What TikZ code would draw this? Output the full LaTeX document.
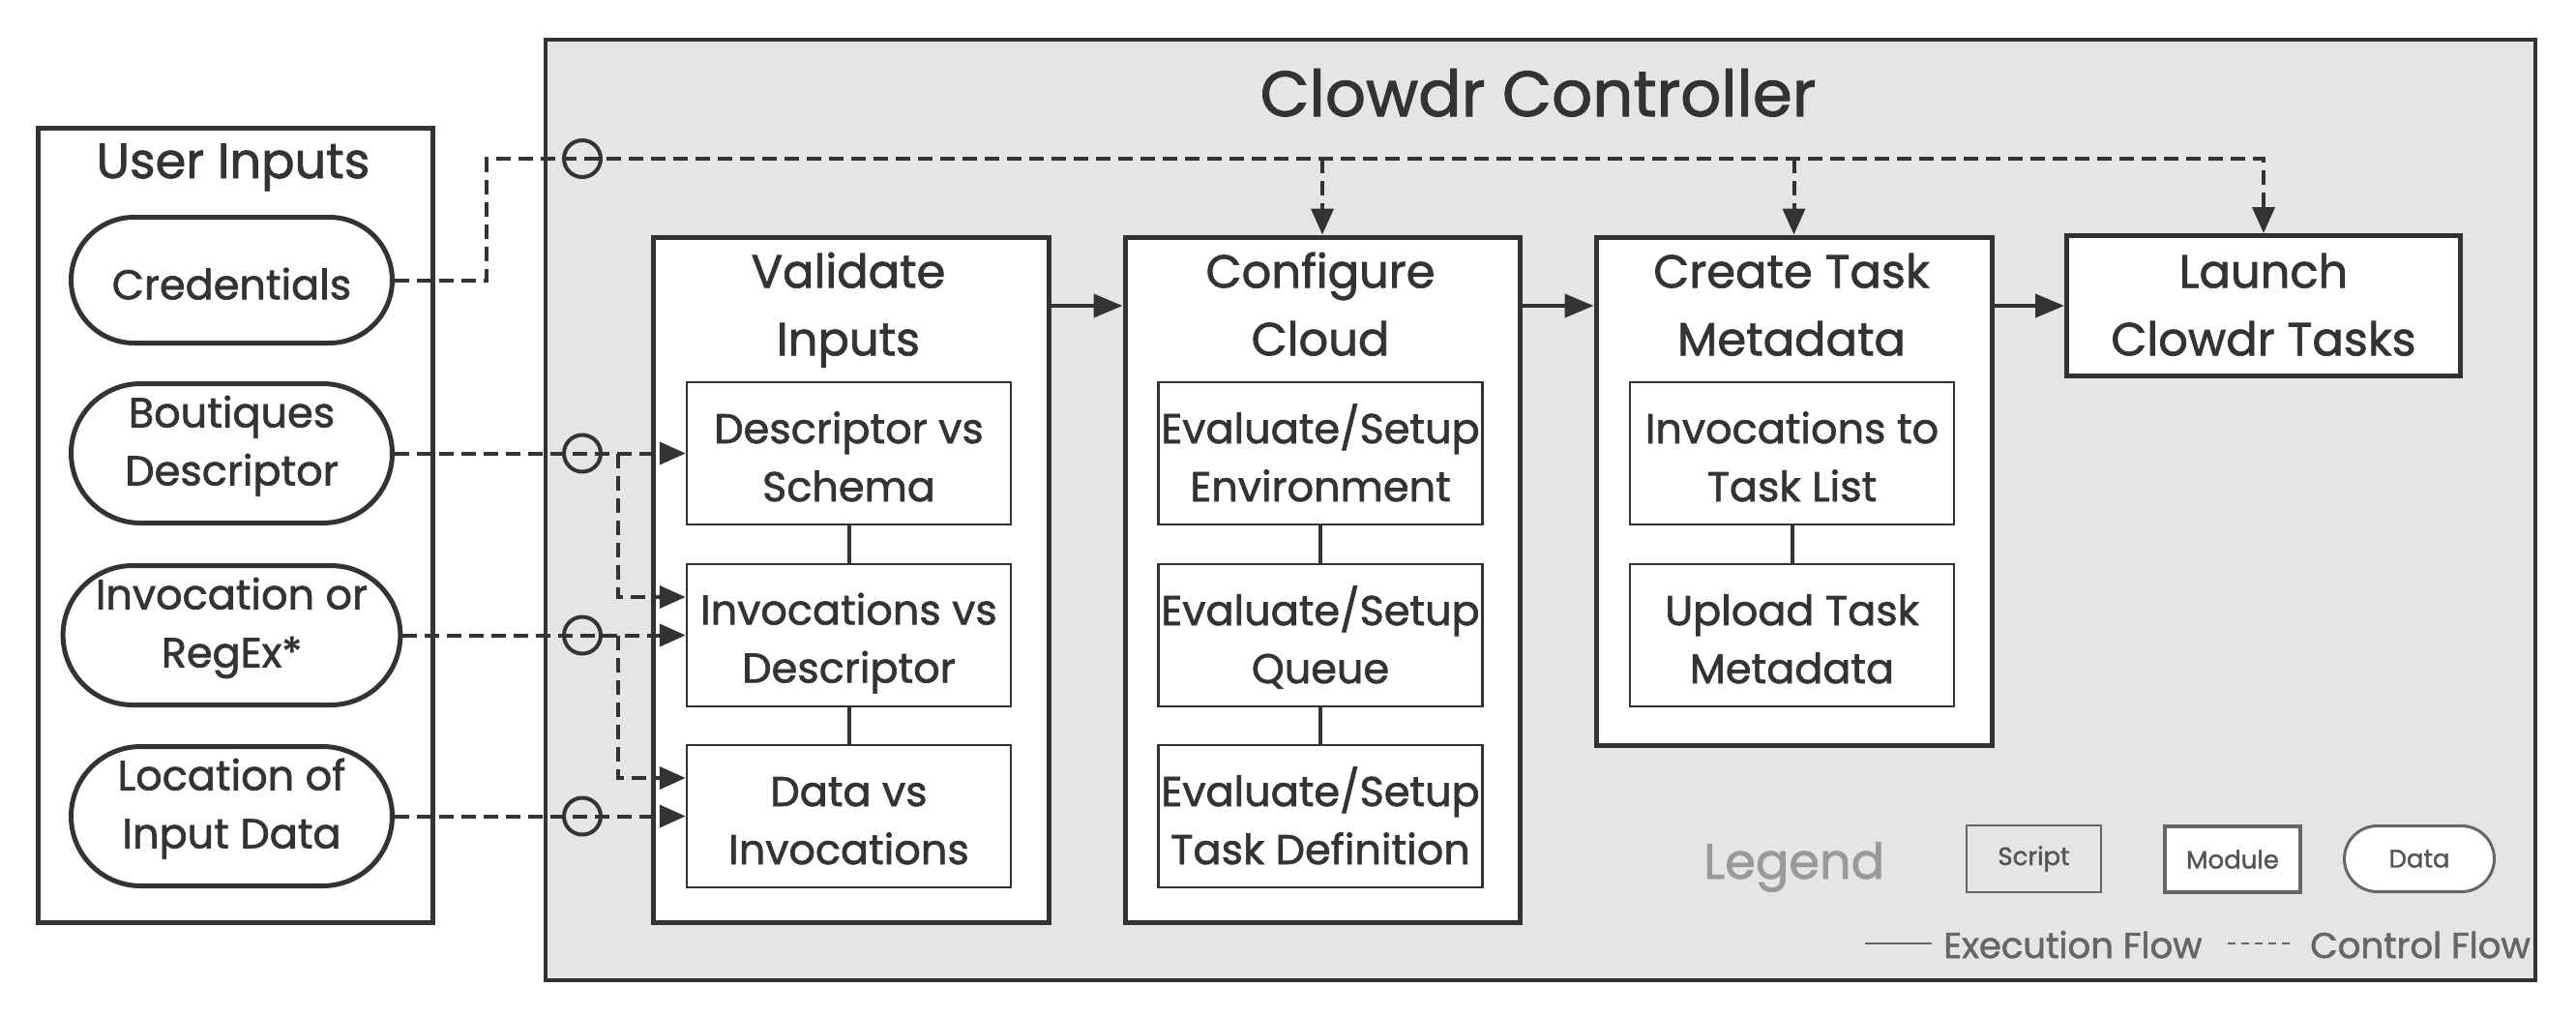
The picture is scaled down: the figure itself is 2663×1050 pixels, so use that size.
\documentclass[tikz,border=0pt]{standalone}
\usepackage{fontspec}
\setmainfont{Poppins}[FakeBold=1.5]
\usetikzlibrary{arrows.meta,shapes.misc}
\definecolor{ink}{HTML}{333333}
\definecolor{panel}{HTML}{E5E5E5}
\definecolor{legd}{HTML}{666666}
\definecolor{legk}{HTML}{555555}
\definecolor{legt}{HTML}{999999}
\newcommand\fsTitle{\fontsize{66}{80}\selectfont}
\newcommand\fsHead{\fontsize{48}{70}\selectfont}
\newcommand\fsUser{\fontsize{51}{70}\selectfont}
\newcommand\fsBody{\fontsize{43}{60}\selectfont}
\newcommand\fsLegend{\fontsize{51}{60}\selectfont}
\newcommand\fsKey{\fontsize{26}{30}\selectfont}
\newcommand\fsFlow{\fontsize{37}{40}\selectfont}
\newcommand\myTopStrut[1]{\rule{0pt}{#1}}
\newcommand\myBotStrut[1]{\rule[-#1]{0pt}{#1}}
\newcommand\HeadLines[2]{\myTopStrut{48pt}#1\\#2\myBotStrut{14.4pt}}
\newcommand\ScriptLines[2]{\myTopStrut{49pt}#1\\#2\myBotStrut{10pt}}
\newcommand\DataLines[2]{\myTopStrut{34pt}#1\\#2\myBotStrut{28pt}}
\tikzset{
  panelbox/.style={draw=ink, line width=4pt, fill=panel, inner sep=0pt, anchor=north west},
  outerbox/.style={draw=ink, line width=5pt, fill=white, inner sep=0pt, anchor=north west},
  modbox/.style={draw=ink, line width=5pt, fill=white, inner sep=0pt, anchor=north west},
  headtext/.style={text=ink, font=\fsHead, align=center, inner sep=0pt},
  scriptbox/.style={draw=ink, line width=2.5pt, fill=white, text=ink, font=\fsBody, align=center,
     minimum width=335pt, minimum height=147pt, inner sep=0pt},
  databox/.style={rounded rectangle, draw=ink, line width=5pt, fill=white, text=ink, font=\fsBody,
     align=center, minimum width=332pt, inner sep=0pt},
  junction/.style={circle, draw=ink, line width=4pt, minimum size=38pt, inner sep=0pt},
  ctrl/.style={draw=ink, line width=4pt, dash pattern=on 15pt off 8pt},
  ctrlarrow/.style={ctrl, -{Triangle[length=27pt,width=23pt]}},
  execarrow/.style={draw=ink, line width=4pt, -{Triangle[length=30pt,width=24pt]}},
  link/.style={draw=ink, line width=4pt},
  keybox/.style={draw=legd, text=legk, font=\fsKey, inner sep=0pt, minimum height=69pt},
  flowtext/.style={text=legd, font=\fsFlow, anchor=base west, inner sep=0pt},
}
\begin{document}
\begin{tikzpicture}[x=1pt, y=-1pt]
\useasboundingbox[fill=white] (0,0) rectangle (2663,1050);

% containers
\node[outerbox, minimum width=408pt, minimum height=821pt] (user) at (37,130) {};
\node[text=ink, font=\fsUser, anchor=base, inner sep=0pt] (usert) at (241,184) {User Inputs};
\node[panelbox, minimum width=2057pt, minimum height=972pt] (ctl) at (562,39) {};
\node[text=ink, font=\fsTitle, anchor=base, inner sep=0pt] (ctlt) at (1590,120) {Clowdr Controller};

% modules
\node[modbox, minimum width=409pt, minimum height=708pt] (vi) at (672.5,242.5) {};
\node[modbox, minimum width=408pt, minimum height=708pt] (cc) at (1160.5,242.5) {};
\node[modbox, minimum width=409pt, minimum height=525pt] (ct) at (1647.5,242.5) {};
\node[draw=ink, line width=5pt, fill=white, inner sep=0pt,
      minimum width=407pt, minimum height=145pt] (launch) at (2340,316) {};
\node[headtext] (launcht) at (2340,315.5) {\HeadLines{Launch}{Clowdr Tasks}};
\node[headtext] (vit) at (877,315.5) {\HeadLines{Validate}{Inputs}};
\node[headtext] (cct) at (1365,315.5) {\HeadLines{Configure}{Cloud}};
\node[headtext] (ctt) at (1852,315.5) {\HeadLines{Create Task}{Metadata}};

% scripts
\node[scriptbox] (dvs) at (877.5,468.5) {\ScriptLines{Descriptor vs}{Schema}};
\node[scriptbox] (ivd) at (877.5,656.5) {\ScriptLines{Invocations vs}{Descriptor}};
\node[scriptbox] (dvi) at (877.5,843.5) {\ScriptLines{Data vs}{Invocations}};
\node[scriptbox] (env) at (1365,468.5) {\ScriptLines{Evaluate/Setup}{Environment}};
\node[scriptbox] (que) at (1365,656.5) {\ScriptLines{Evaluate/Setup}{Queue}};
\node[scriptbox] (tdf) at (1365,843.5) {\ScriptLines{Evaluate/Setup}{Task Definition}};
\node[scriptbox] (itl) at (1852.5,468.5) {\ScriptLines{Invocations to}{Task List}};
\node[scriptbox] (utm) at (1852.5,656.5) {\ScriptLines{Upload Task}{Metadata}};

% data
\node[databox, minimum height=130pt] (cred) at (239.5,289.5) {\myTopStrut{40pt}Credentials};
\node[databox, minimum height=144pt] (bout) at (239.5,468.5) {\DataLines{Boutiques}{Descriptor}};
\node[databox, minimum height=144pt] (inv) at (239.5,656.5) {\DataLines{Invocation or}{RegEx*}};
\node[databox, minimum height=144pt] (loc) at (239.5,843.5) {\DataLines{Location of}{Input Data}};

% junctions
\node[junction] (j0) at (602,164) {};
\node[junction] (j1) at (602,468.5) {};
\node[junction] (j2) at (602,656.5) {};
\node[junction] (j3) at (602,843.5) {};
\coordinate (b1) at (639,468.5);
\coordinate (b2) at (639,656.5);

% control flow
\draw[ctrl] (cred.east) -- ++(95,0) |- (j0.west);
\draw[ctrlarrow] (j0.west) -| (launch.north);
\draw[ctrlarrow] (cc.north |- j0) -- (cc.north);
\draw[ctrlarrow] (ct.north |- j0) -- (ct.north);
\draw[ctrlarrow] (bout.east) -- (dvs.west);
\draw[ctrlarrow] (inv.east) -- (ivd.west);
\draw[ctrlarrow] (loc.east) -- (dvi.west);
\draw[ctrlarrow] (b1) |- ([yshift=39.5pt]ivd.west);
\draw[ctrlarrow] (b2) |- ([yshift=39.5pt]dvi.west);

% execution flow
\draw[execarrow] (vi.east |- launch) -- (cc.west |- launch);
\draw[execarrow] (cc.east |- launch) -- (ct.west |- launch);
\draw[execarrow] (ct.east |- launch) -- (launch.west);
\draw[link] (dvs.south) -- (ivd.north);
\draw[link] (ivd.south) -- (dvi.north);
\draw[link] (env.south) -- (que.north);
\draw[link] (que.south) -- (tdf.north);
\draw[link] (itl.south) -- (utm.north);

% legend
\node[text=legt, font=\fsLegend, anchor=base west, inner sep=0pt] (legt) at (1761,908) {Legend};
\node[keybox, line width=2.5pt, minimum width=139pt] (kscript) at (2102.5,887.5) {Script};
\node[keybox, line width=4pt, fill=white, minimum width=140pt, minimum height=68pt] (kmod) at (2308,888) {Module};
\node[keybox, rounded rectangle, line width=3pt, fill=white, minimum width=155pt, minimum height=68pt] (kdata) at (2501,887.5) {Data};
\coordinate (ex0) at (1928,975);
\coordinate (ex1) at (1997,975);
\coordinate (cf0) at (2303,975);
\coordinate (cf1) at (2372,975);
\draw[draw=legd, line width=2.7pt] (ex0) -- (ex1);
\node[flowtext] (exl) at (2009,990) {Execution Flow};
\draw[draw=legd, line width=2.2pt, dash pattern=on 8pt off 6pt] (cf0) -- (cf1);
\node[flowtext] (cfl) at (2388,990) {Control Flow};
\end{tikzpicture}
\end{document}
